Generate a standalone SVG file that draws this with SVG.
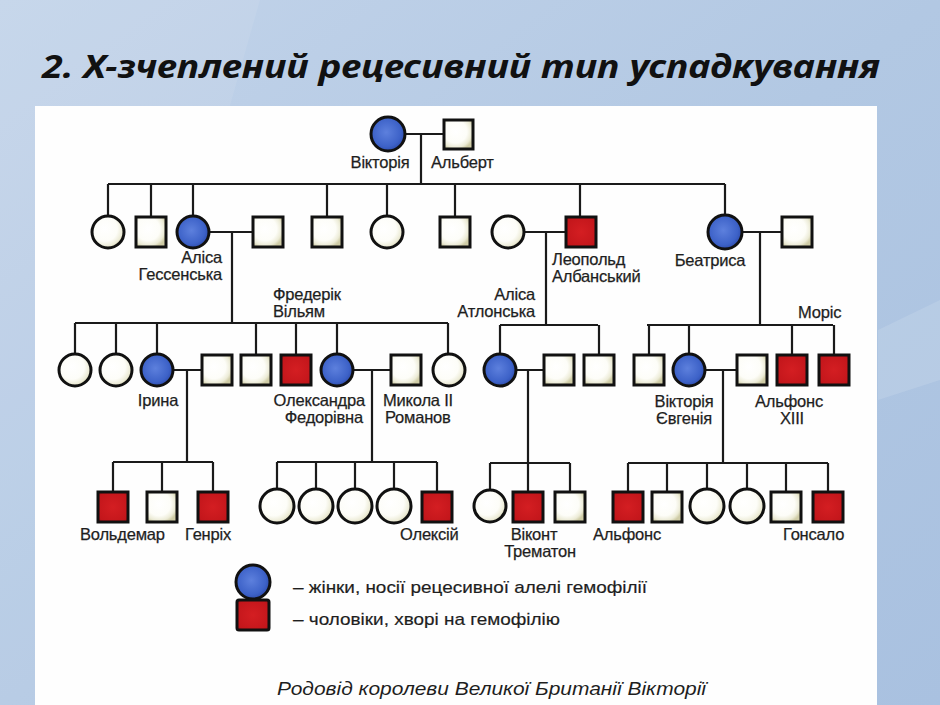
<svg xmlns="http://www.w3.org/2000/svg" width="940" height="705" viewBox="0 0 940 705">
<defs>
<linearGradient id="bg" x1="0" y1="0" x2="1" y2="1">
<stop offset="0" stop-color="#c3d4ea"/>
<stop offset="0.5" stop-color="#b2c8e3"/>
<stop offset="1" stop-color="#a9c1e0"/>
</linearGradient>
<radialGradient id="wf" cx="0.4" cy="0.4" r="0.65">
<stop offset="0" stop-color="#ffffff"/>
<stop offset="0.6" stop-color="#fdfdf8"/>
<stop offset="0.85" stop-color="#ecebd6"/>
<stop offset="1" stop-color="#cfcca6"/>
</radialGradient>
<radialGradient id="bf" cx="0.45" cy="0.45" r="0.6">
<stop offset="0" stop-color="#5d80dd"/>
<stop offset="0.7" stop-color="#3d62c8"/>
<stop offset="1" stop-color="#2a47a6"/>
</radialGradient>
<radialGradient id="rf" cx="0.5" cy="0.5" r="0.7">
<stop offset="0" stop-color="#d41e22"/>
<stop offset="0.8" stop-color="#c3161b"/>
<stop offset="1" stop-color="#9c1014"/>
</radialGradient>
</defs>
<style>
.w{fill:url(#wf);stroke:#111;stroke-width:3}
.b{fill:url(#bf);stroke:#111;stroke-width:3}
.r{fill:url(#rf);stroke:#111;stroke-width:3}
.ln{stroke:#1a1a1a;stroke-width:2.2;fill:none}
.lb{font-family:"Liberation Sans",Arial,sans-serif;font-size:16.5px;fill:#1e1e1e;stroke:#1e1e1e;stroke-width:0.25;letter-spacing:-0.2px}
.lg{font-family:"Liberation Sans",Arial,sans-serif;font-size:17px;fill:#1e1e1e;stroke:#1e1e1e;stroke-width:0.2}
</style>
<rect x="0" y="0" width="940" height="705" fill="url(#bg)"/>
<polygon points="0,0 260,0 60,705 0,705" fill="#ffffff" opacity="0.08"/>
<polygon points="878,330 940,300 940,380 878,400" fill="#ffffff" opacity="0.12"/>
<text x="42" y="78" font-family="'Noto Sans','Open Sans',sans-serif" font-size="32" font-weight="bold" font-style="italic" fill="#111" textLength="838" lengthAdjust="spacingAndGlyphs">2. Х-зчеплений рецесивний тип успадкування</text>
<rect x="35" y="106" width="842" height="600" fill="#fefefe"/>

<g id="connectors" class="ln">
<path d="M405,134H443M421,134V184M108,184H725"/>
<path d="M108,184V216M151,184V217M193,184V216M327,184V217M387,184V216M455,184V217M580,184V217M725,184V215"/>
<path d="M209,232H253M232,232V323M524,232H566M546,232V325M742,232H782M760,232V325"/>
<path d="M75,323H448M75,323V354M116,323V354M157,323V354M256,323V355M296,323V355M337,323V354M448,323V354"/>
<path d="M500,325H598M500,325V354M599,325V355"/>
<path d="M647,325H833M649,325V355M689,325V354M792,325V355M834,325V355"/>
<path d="M173,370H202M187,370V462M353,370H391M372,370V462M516,370H544M528,370V463M705,370H737M723,370V463"/>
<path d="M113,462H213M113,462V492M162,462V492M213,462V492"/>
<path d="M277,462H437M277,462V490M316,462V490M355,462V490M394,462V490M437,462V492"/>
<path d="M490,463H570M490,463V490M528,463V492M570,463V492"/>
<path d="M628,463H828M628,463V492M667,463V492M707,463V490M747,463V490M786,463V492M828,463V492"/>
</g>

<g id="n-viktoria"><circle class="b" cx="388" cy="134" r="17"/><text class="lb" x="380" y="168" text-anchor="middle">Вікторія</text></g>
<g id="n-albert"><rect class="w" x="444" y="120" width="29" height="29"/><text class="lb" x="431" y="168">Альберт</text></g>

<g id="g2-1"><circle class="w" cx="108" cy="232" r="16"/></g>
<g id="g2-2"><rect class="w" x="136" y="217" width="30" height="30"/></g>
<g id="n-alisa-h"><circle class="b" cx="193" cy="232" r="16"/><text class="lb" text-anchor="end"><tspan x="222" y="263">Аліса</tspan><tspan x="222" y="280">Гессенська</tspan></text></g>
<g id="g2-4"><rect class="w" x="253" y="217" width="30" height="30"/></g>
<g id="g2-5"><rect class="w" x="312" y="217" width="30" height="30"/></g>
<g id="g2-6"><circle class="w" cx="387" cy="232" r="16"/></g>
<g id="g2-7"><rect class="w" x="440" y="217" width="30" height="30"/></g>
<g id="g2-8"><circle class="w" cx="508" cy="232" r="16"/></g>
<g id="n-leopold"><rect class="r" x="566" y="217" width="30" height="30"/><text class="lb"><tspan x="552" y="265">Леопольд</tspan><tspan x="552" y="282">Албанський</tspan></text></g>
<g id="n-beatrisa"><circle class="b" cx="725" cy="232" r="17"/><text class="lb" x="710" y="266" text-anchor="middle">Беатриса</text></g>
<g id="g2-11"><rect class="w" x="782" y="217" width="30" height="30"/></g>

<g id="label-frederik"><text class="lb"><tspan x="273" y="300">Фредерік</tspan><tspan x="273" y="317">Вільям</tspan></text></g>
<g id="g3-1"><circle class="w" cx="75" cy="370" r="16"/></g>
<g id="g3-2"><circle class="w" cx="116" cy="370" r="16"/></g>
<g id="n-iryna"><circle class="b" cx="157" cy="370" r="16"/><text class="lb" x="158" y="406" text-anchor="middle">Ірина</text></g>
<g id="g3-4"><rect class="w" x="202" y="355" width="30" height="30"/></g>
<g id="g3-5"><rect class="w" x="241" y="355" width="30" height="30"/></g>
<g id="n-frederik"><rect class="r" x="281" y="355" width="30" height="30"/></g>
<g id="n-oleksandra"><circle class="b" cx="337" cy="370" r="16"/><text class="lb" text-anchor="end"><tspan x="365" y="406">Олександра</tspan><tspan x="363" y="423">Федорівна</tspan></text></g>
<g id="n-mykola"><rect class="w" x="391" y="355" width="30" height="30"/><text class="lb"><tspan x="383" y="406">Микола II</tspan><tspan x="385" y="423">Романов</tspan></text></g>
<g id="g3-9"><circle class="w" cx="449" cy="370" r="16"/></g>

<g id="label-alisa-a"><text class="lb" text-anchor="end"><tspan x="535" y="300">Аліса</tspan><tspan x="535" y="317">Атлонська</tspan></text></g>
<g id="n-alisa-a"><circle class="b" cx="500" cy="370" r="16"/></g>
<g id="g3-11"><rect class="w" x="544" y="355" width="30" height="30"/></g>
<g id="g3-12"><rect class="w" x="584" y="355" width="30" height="30"/></g>

<g id="g3-13"><rect class="w" x="634" y="355" width="30" height="30"/></g>
<g id="n-viktoria-e"><circle class="b" cx="689" cy="370" r="16"/><text class="lb" text-anchor="middle"><tspan x="684" y="407">Вікторія</tspan><tspan x="684" y="424">Євгенія</tspan></text></g>
<g id="n-alfons13"><rect class="w" x="737" y="355" width="30" height="30"/><text class="lb" text-anchor="middle"><tspan x="789" y="407">Альфонс</tspan><tspan x="792" y="424">XIII</tspan></text></g>
<g id="g3-16"><rect class="r" x="777" y="355" width="30" height="30"/></g>
<g id="n-moris"><rect class="r" x="819" y="355" width="30" height="30"/><text class="lb" x="798" y="318">Моріс</text></g>

<g id="n-voldemar"><rect class="r" x="98" y="492" width="30" height="30"/><text class="lb" x="80" y="540">Вольдемар</text></g>
<g id="g4-2"><rect class="w" x="147" y="492" width="30" height="30"/></g>
<g id="n-henrikh"><rect class="r" x="198" y="492" width="30" height="30"/><text class="lb" x="185" y="540">Генріх</text></g>

<g id="g4-4"><circle class="w" cx="277" cy="506" r="17"/></g>
<g id="g4-5"><circle class="w" cx="316" cy="506" r="17"/></g>
<g id="g4-6"><circle class="w" cx="355" cy="506" r="17"/></g>
<g id="g4-7"><circle class="w" cx="394" cy="506" r="17"/></g>
<g id="n-oleksii"><rect class="r" x="422" y="492" width="30" height="30"/><text class="lb" x="400" y="540">Олексій</text></g>

<g id="g4-9"><circle class="w" cx="490" cy="506" r="16"/></g>
<g id="n-vikont"><rect class="r" x="513" y="492" width="30" height="30"/><text class="lb" text-anchor="middle"><tspan x="534" y="540">Віконт</tspan><tspan x="540" y="557">Трематон</tspan></text></g>
<g id="g4-11"><rect class="w" x="555" y="492" width="30" height="30"/></g>

<g id="n-alfons"><rect class="r" x="613" y="492" width="30" height="30"/><text class="lb" x="593" y="540">Альфонс</text></g>
<g id="g4-13"><rect class="w" x="652" y="492" width="30" height="30"/></g>
<g id="g4-14"><circle class="w" cx="707" cy="506" r="17"/></g>
<g id="g4-15"><circle class="w" cx="747" cy="506" r="17"/></g>
<g id="g4-16"><rect class="w" x="771" y="492" width="30" height="30"/></g>
<g id="n-gonsalo"><rect class="r" x="813" y="492" width="30" height="30"/><text class="lb" x="783" y="540">Гонсало</text></g>

<g id="legend">
<circle class="b" cx="253" cy="582" r="17"/>
<rect class="r" x="237" y="600" width="32" height="30" rx="2"/>
<text class="lg" x="293" y="593" textLength="354" lengthAdjust="spacingAndGlyphs">– жінки, носії рецесивної алелі гемофілії</text>
<text class="lg" x="293" y="625" textLength="267" lengthAdjust="spacingAndGlyphs">– чоловіки, хворі на гемофілію</text>
</g>
<text x="277" y="695" font-family="'Liberation Sans',Arial,sans-serif" font-size="17.5" font-style="italic" fill="#1e1e1e" textLength="429" lengthAdjust="spacingAndGlyphs">Родовід королеви Великої Британії Вікторії</text>
</svg>
